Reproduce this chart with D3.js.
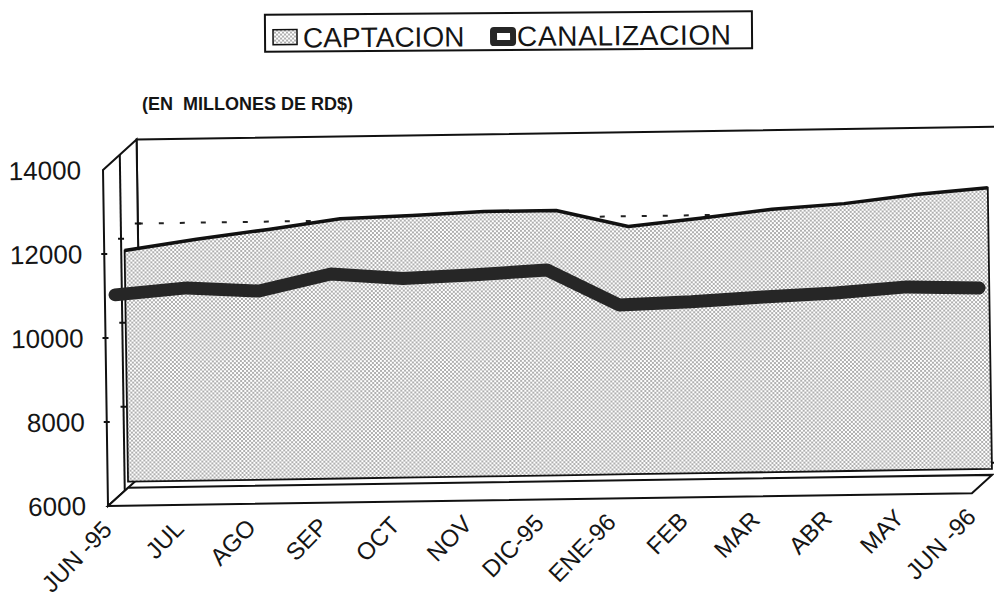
<!doctype html>
<html>
  <head>
    <script src="https://cdnjs.cloudflare.com/ajax/libs/d3/7.8.5/d3.min.js"></script>
    <style>
      body { margin: 0; background: #fff; }
      text { font-family: "Liberation Sans", Arial, sans-serif; fill: #151515; }
    </style>
  </head>
  <body>
    <svg width="994" height="606"></svg>
    <script>
        var categories = ["JUN -95", "JUL", "AGO", "SEP", "OCT", "NOV", "DIC-95", "ENE-96", "FEB", "MAR", "ABR", "MAY", "JUN -96"];
        var captacion = [11650, 11890, 12100, 12330, 12380, 12450, 12450, 12040, 12210, 12400, 12510, 12700, 12840];
        var canalizacion = [10810, 10950, 10850, 11230, 11100, 11160, 11250, 10390, 10440, 10530, 10600, 10720, 10670];
        var yTicks = [6000, 8000, 10000, 12000, 14000];
        var gridValues = [8000, 10000, 12000];

        var svg = d3.select("svg");

        // stipple fill like the printed chart
        var pat = svg.append("defs").append("pattern")
            .attr("id", "stip")
            .attr("width", 4).attr("height", 4)
            .attr("patternUnits", "userSpaceOnUse");
        pat.append("rect").attr("width", 4).attr("height", 4).attr("fill", "#fff");
        pat.append("circle").attr("cx", 1).attr("cy", 1).attr("r", 0.8).attr("fill", "#4a4a4a");
        pat.append("circle").attr("cx", 3).attr("cy", 3).attr("r", 0.8).attr("fill", "#4a4a4a");

        var xScale = d3.scalePoint().domain(categories).range([108, 972]);
        var yScale = d3.scaleLinear().domain([6000, 14000]).range([506, 170]);

        // depth offset of the fake 3d box
        var DX = 34, DY = -30;
        var AREA_D = 0.6, LINE_D = 0.3;

        var x0 = xScale.range()[0], x1 = xScale.range()[1];
        var yTop = yScale(14000), yBot = yScale(6000);

        // whole chart is a little tilted in the scan
        var chart = svg.append("g").attr("transform", "rotate(-0.85,108,506)");

        // back wall
        chart.append("rect")
            .attr("x", x0 + DX).attr("y", yTop + DY)
            .attr("width", x1 - x0).attr("height", yBot - yTop)
            .attr("fill", "#fff").attr("stroke", "#111").attr("stroke-width", 2);

        chart.selectAll(".grid")
            .data(gridValues)
            .enter()
            .append("line")
            .attr("x1", x0 + DX).attr("x2", x1 + DX)
            .attr("y1", d => yScale(d) + DY).attr("y2", d => yScale(d) + DY)
            .attr("stroke", "#222").attr("stroke-width", 2)
            .attr("stroke-dasharray", "5,16");

        // side wall
        chart.append("polygon")
            .attr("points", [[x0, yTop], [x0 + DX, yTop + DY], [x0 + DX, yBot + DY], [x0, yBot]].join(" "))
            .attr("fill", "#fff").attr("stroke", "#111").attr("stroke-width", 2);

        chart.append("line")
            .attr("x1", x0 + DX / 2).attr("x2", x0 + DX / 2)
            .attr("y1", yTop + DY / 2).attr("y2", yBot + DY / 2)
            .attr("stroke", "#111").attr("stroke-width", 2);

        [0, 0.5, 1].forEach(function(k){
            chart.selectAll(".tk" + k * 10)
                .data(gridValues)
                .enter()
                .append("line")
                .attr("x1", x0 + DX * k - 3).attr("x2", x0 + DX * k + 3)
                .attr("y1", d => yScale(d) + DY * k).attr("y2", d => yScale(d) + DY * k)
                .attr("stroke", "#111").attr("stroke-width", 2);
        });

        // floor
        chart.append("polygon")
            .attr("points", [[x0, yBot], [x1, yBot], [x1 + DX * AREA_D, yBot + DY * AREA_D], [x0 + DX * AREA_D, yBot + DY * AREA_D]].join(" "))
            .attr("fill", "#fff").attr("stroke", "#111").attr("stroke-width", 2);

        // CAPTACION area
        var aBase = yBot + DY * AREA_D - 6;
        var area = d3.area()
            .x((d, i) => xScale(categories[i]) + DX * AREA_D)
            .y0(aBase)
            .y1(d => yScale(d) + DY * AREA_D);
        chart.append("path")
            .attr("d", area(captacion))
            .attr("fill", "url(#stip)")
            .attr("stroke", "#111").attr("stroke-width", 1.8);

        var topLine = d3.line()
            .x((d, i) => xScale(categories[i]) + DX * AREA_D)
            .y(d => yScale(d) + DY * AREA_D);
        chart.append("path")
            .attr("d", topLine(captacion))
            .attr("fill", "none")
            .attr("stroke", "#111").attr("stroke-width", 3.5)
            .attr("stroke-linejoin", "round");

        // CANALIZACION line
        var line = d3.line()
            .x((d, i) => xScale(categories[i]) + DX * LINE_D)
            .y(d => yScale(d) + DY * LINE_D);
        chart.append("path")
            .attr("d", line(canalizacion))
            .attr("fill", "none")
            .attr("stroke", "#262626").attr("stroke-width", 13)
            .attr("stroke-linecap", "round").attr("stroke-linejoin", "round");

        // y axis labels
        var yAxis = d3.axisLeft(yScale)
            .tickValues(yTicks)
            .tickSize(0)
            .tickPadding(22)
            .tickFormat(d3.format("d"));
        var ya = chart.append("g")
            .attr("transform", "translate(" + x0 + ",0)")
            .call(yAxis);
        ya.select(".domain").remove();
        ya.selectAll("text")
            .style("font-family", "'Liberation Sans', Arial, sans-serif")
            .style("font-size", "26px")
            .attr("fill", "#151515");

        // x labels
        chart.selectAll(".xl")
            .data(categories)
            .enter()
            .append("text")
            .attr("x", d => xScale(d) + 5)
            .attr("y", 531)
            .attr("transform", d => "rotate(-45," + (xScale(d) + 5) + ",531)")
            .attr("text-anchor", "end")
            .style("font-size", "24px")
            .style("white-space", "pre")
            .text(d => d);

        // subtitle
        svg.append("text")
            .attr("x", 142).attr("y", 110)
            .style("font-size", "18px")
            .style("font-weight", "bold")
            .style("white-space", "pre")
            .text("(EN  MILLONES DE RD$)");

        // legend
        var leg = svg.append("g").attr("transform", "rotate(-0.4,508,31)");
        leg.append("rect")
            .attr("x", 265).attr("y", 13).attr("width", 487).attr("height", 37)
            .attr("fill", "#fff").attr("stroke", "#111").attr("stroke-width", 2);
        leg.append("rect")
            .attr("x", 273).attr("y", 28).attr("width", 24).attr("height", 15)
            .attr("fill", "url(#stip)").attr("stroke", "#111").attr("stroke-width", 1.5);
        leg.append("text")
            .attr("x", 303).attr("y", 46)
            .style("font-size", "28px")
            .text("CAPTACION");
        leg.append("rect")
            .attr("x", 490).attr("y", 27).attr("width", 26).attr("height", 19).attr("rx", 4)
            .attr("fill", "#262626");
        leg.append("rect")
            .attr("x", 497).attr("y", 33).attr("width", 13).attr("height", 7)
            .attr("fill", "#fff");
        leg.append("text")
            .attr("x", 517).attr("y", 46)
            .attr("textLength", 214)
            .style("font-size", "28px")
            .text("CANALIZACION");
    </script>
  </body>
</html>
